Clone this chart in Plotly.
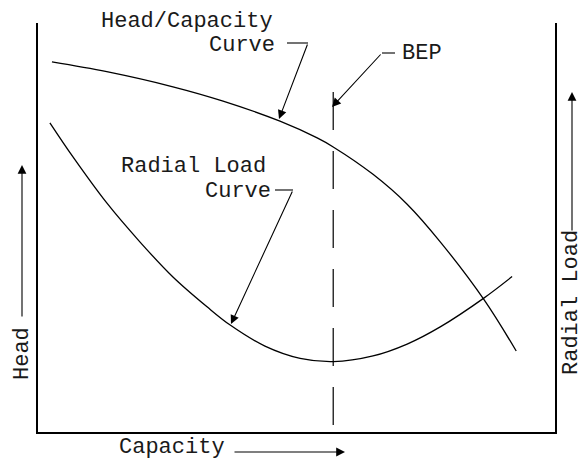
import plotly.graph_objects as go

# ---- data (arbitrary 0-100 units) ----
capacity_hq = [2.7, 13.3, 26.1, 35.8, 46.8, 54.0, 57.1, 64.8, 71.4, 77.8, 86.3, 92.5]
head = [90.5, 88.1, 84.4, 80.9, 76.0, 71.9, 69.7, 63.0, 55.7, 46.5, 32.3, 19.8]

capacity_rl = [2.3, 6.8, 13.3, 19.7, 26.1, 32.7, 37.1, 43.9, 50.7, 57.1, 64.8, 71.4, 77.8, 86.3, 91.7]
radial_load = [75.6, 67.2, 56.0, 46.5, 37.9, 30.6, 26.2, 21.0, 18.0, 17.2, 18.6, 21.5, 25.7, 32.8, 38.0]

bep_capacity = [57.1, 57.1]
bep_span = [83.1, 0.0]

# ---- layout geometry (pixels) ----
W, H = 583, 461
L, R, T, B = 38, 555, 23, 432


def px(x):
    return (x - L) / (R - L)


def py(y):
    return (B - y) / (B - T)


FONT = dict(family="Liberation Mono, DejaVu Sans Mono, monospace", size=22, color="#1a1a1a")
LINE = dict(color="black", width=1.3, shape="spline", smoothing=1.0)

fig = go.Figure()
fig.add_trace(go.Scatter(x=capacity_hq, y=head, mode="lines", line=LINE,
                         showlegend=False, hoverinfo="skip"))
fig.add_trace(go.Scatter(x=capacity_rl, y=radial_load, mode="lines", line=LINE,
                         showlegend=False, hoverinfo="skip"))
fig.add_trace(go.Scatter(x=bep_capacity, y=bep_span, mode="lines",
                         line=dict(color="black", width=1.2, dash="38px,21px"),
                         showlegend=False, hoverinfo="skip"))

annotations = []


def text(t, x, y, xanchor="center", angle=0, yanchor="middle"):
    annotations.append(dict(text=t, x=px(x), y=py(y), xref="paper", yref="paper",
                            xanchor=xanchor, yanchor=yanchor, showarrow=False,
                            textangle=angle, font=FONT, borderpad=0))


def arrow(hx, hy, tx, ty):
    annotations.append(dict(text="", x=px(hx), y=py(hy), xref="paper", yref="paper",
                            ax=tx - hx, ay=ty - hy, axref="pixel", ayref="pixel",
                            showarrow=True, arrowhead=2, arrowsize=1.6, arrowwidth=1.1,
                            arrowcolor="black", standoff=0, startstandoff=0))


text("Head/Capacity", 274, 21, "right")
text("Curve", 276, 45, "right")
text("BEP", 401, 53, "left")
text("Radial Load", 120, 167, "left")
text("Curve", 272, 192, "right")
text("Capacity", 118, 461, "left", yanchor="bottom")
text("Head", 22, 354, "center", -90)
text("Radial Load", 571, 303, "center", -90)

arrow(279, 119, 308, 43)
arrow(332, 107, 382, 53)
arrow(231, 324, 293, 190)
arrow(22, 165, 22, 318)
arrow(572, 92, 572, 232)
arrow(345, 452, 233, 452)

shapes = []
for x0, x1, yy in [(287, 308, 43), (382, 395, 53), (275, 293, 190)]:
    shapes.append(dict(type="line", xref="paper", yref="paper",
                       x0=px(x0), x1=px(x1), y0=py(yy), y1=py(yy),
                       line=dict(color="black", width=1.1)))

axis_common = dict(showgrid=False, zeroline=False, showticklabels=False, ticks="",
                   showline=True, linecolor="black", linewidth=1.5, fixedrange=True)

fig.update_layout(
    width=W, height=H,
    margin=dict(l=L, r=W - R, t=T, b=H - B, pad=0),
    paper_bgcolor="white", plot_bgcolor="white",
    xaxis=dict(range=[0, 100], **axis_common),
    yaxis=dict(range=[0, 100], mirror=True, **axis_common),
    annotations=annotations,
    shapes=shapes,
    showlegend=False,
)

fig.write_html("out.html", config={"displayModeBar": False},
               post_script="document.body.style.margin='0';")
